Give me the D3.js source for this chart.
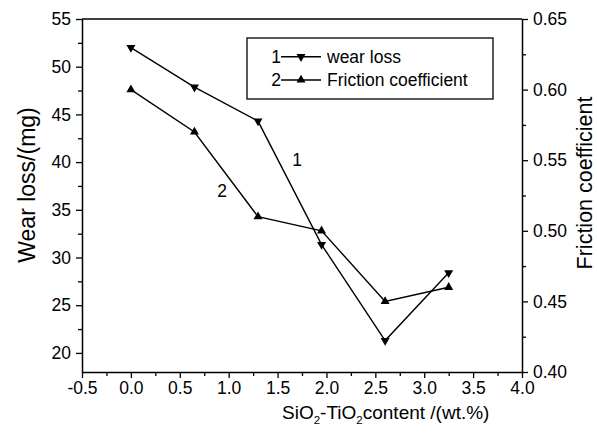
<!DOCTYPE html>
<html>
<head>
<meta charset="utf-8">
<script src="https://cdn.jsdelivr.net/npm/d3@7"></script>
<style>
  html, body { margin: 0; padding: 0; background: #fff; }
  svg { display: block; }
  text { font-family: "Liberation Sans", Arial, sans-serif; fill: #000; }
</style>
</head>
<body>
<svg id="chart" width="597" height="434"></svg>
<script>
// SiO2-TiO2 content (wt.%)
const content = [0, 0.65, 1.3, 1.95, 2.6, 3.25];
// Series 1: wear loss (mg), left axis
const wearLoss = [52.0, 47.85, 44.3, 31.35, 21.3, 28.4];
// Series 2: friction coefficient, right axis
const friction = [0.60, 0.57, 0.51, 0.50, 0.45, 0.46];

const xTicks = [-0.5, 0, 0.5, 1.0, 1.5, 2.0, 2.5, 3.0, 3.5, 4.0];
const yLeftTicks = [20, 25, 30, 35, 40, 45, 50, 55];
const yRightTicks = [0.40, 0.45, 0.50, 0.55, 0.60, 0.65];
const legendLabels = ["wear loss", "Friction coefficient"];

const svg = d3.select("#chart");
const pLeft = 82, pRight = 522, pTop = 19, pBottom = 372;

const x = d3.scaleLinear().domain([-0.5, 4.0]).range([pLeft, pRight]);
const yL = d3.scaleLinear().domain([18, 55]).range([pBottom, pTop]);
const yR = d3.scaleLinear().domain([0.40, 0.65]).range([pBottom, pTop]);

const fs = 17.5;
// plain hyphen for negatives
const fmt1 = d => d3.format(".1f")(d).replace("\u2212", "-");

// minor ticks
const xMinor = d3.range(-0.25, 4.0, 0.5);
const yLMinor = d3.range(22.5, 55, 5);
const yRMinor = d3.range(0.425, 0.65, 0.05);

function styleAxis(g) {
  g.selectAll("path").attr("stroke", "#000").attr("stroke-width", 1.5);
  g.selectAll("line").attr("stroke", "#000").attr("stroke-width", 1.3);
  g.selectAll("text").attr("font-size", fs).attr("font-family", '"Liberation Sans", Arial, sans-serif');
}
function minorStyle(g) {
  g.select("path").remove();
  g.selectAll("line").attr("stroke", "#000").attr("stroke-width", 1.3);
}

// bottom axis
const gx = svg.append("g").attr("transform", `translate(0,${pBottom})`)
  .call(d3.axisBottom(x).tickValues(xTicks).tickSize(6).tickPadding(4)
    .tickFormat(fmt1).tickSizeOuter(0));
styleAxis(gx);
svg.append("g").attr("transform", `translate(0,${pBottom})`)
  .call(d3.axisBottom(x).tickValues(xMinor).tickSize(4).tickFormat("").tickSizeOuter(0))
  .call(minorStyle);

// left axis
const gyl = svg.append("g").attr("transform", `translate(${pLeft},0)`)
  .call(d3.axisLeft(yL).tickValues(yLeftTicks).tickSize(6).tickPadding(5).tickSizeOuter(0));
styleAxis(gyl);
svg.append("g").attr("transform", `translate(${pLeft},0)`)
  .call(d3.axisLeft(yL).tickValues(yLMinor).tickSize(4).tickFormat("").tickSizeOuter(0))
  .call(minorStyle);

// right axis
const gyr = svg.append("g").attr("transform", `translate(${pRight},0)`)
  .call(d3.axisRight(yR).tickValues(yRightTicks).tickSize(6).tickPadding(5)
    .tickFormat(d3.format(".2f")).tickSizeOuter(0));
styleAxis(gyr);
svg.append("g").attr("transform", `translate(${pRight},0)`)
  .call(d3.axisRight(yR).tickValues(yRMinor).tickSize(4).tickFormat("").tickSizeOuter(0))
  .call(minorStyle);

// top frame line
svg.append("line").attr("x1", pLeft).attr("x2", pRight).attr("y1", pTop).attr("y2", pTop)
  .attr("stroke", "#000").attr("stroke-width", 1.5);

// axis titles
svg.append("text")
  .attr("transform", `translate(35,185) rotate(-90)`)
  .attr("text-anchor", "middle").attr("font-size", 23).text("Wear loss/(mg)");

svg.append("text")
  .attr("transform", `translate(592,183) rotate(-90)`)
  .attr("text-anchor", "middle").attr("font-size", 21.5).text("Friction coefficient");

const xt = svg.append("text").attr("x", 282).attr("y", 419).attr("font-size", 19);
xt.append("tspan").text("SiO");
xt.append("tspan").attr("font-size", 11.5).attr("dy", 5).text("2");
xt.append("tspan").attr("dy", -5).text("-TiO");
xt.append("tspan").attr("font-size", 11.5).attr("dy", 5).text("2");
xt.append("tspan").attr("dy", -5).text("content /(wt.%)");

// triangle markers
const triUp = "M0,-5.2L4.5,2.6L-4.5,2.6Z";
const triDown = "M0,5.2L4.5,-2.6L-4.5,-2.6Z";

const lineStyle = sel => sel.attr("fill", "none").attr("stroke", "#000").attr("stroke-width", 1.4);

const wearPts = content.map((c, i) => [x(c), yL(wearLoss[i])]);
const fricPts = content.map((c, i) => [x(c), yR(friction[i])]);

svg.append("path").attr("d", d3.line()(wearPts)).call(lineStyle);
svg.append("path").attr("d", d3.line()(fricPts)).call(lineStyle);

svg.selectAll(".wm").data(wearPts).enter().append("path")
  .attr("transform", d => `translate(${d[0]},${d[1]})`).attr("d", triDown).attr("fill", "#000");
svg.selectAll(".fm").data(fricPts).enter().append("path")
  .attr("transform", d => `translate(${d[0]},${d[1]})`).attr("d", triUp).attr("fill", "#000");

// curve labels
svg.append("text").attr("x", 297).attr("y", 166).attr("text-anchor", "middle").attr("font-size", 17.5).text("1");
svg.append("text").attr("x", 222).attr("y", 197).attr("text-anchor", "middle").attr("font-size", 17.5).text("2");

// legend
const lg = svg.append("g");
lg.append("rect").attr("x", 247).attr("y", 38).attr("width", 246).attr("height", 61)
  .attr("fill", "#fff").attr("stroke", "#000").attr("stroke-width", 1.3);
const rows = [56.7, 80];
const marks = [triDown, triUp];
legendLabels.forEach((lab, i) => {
  const cy = rows[i];
  lg.append("text").attr("x", 276).attr("y", cy + 6).attr("text-anchor", "middle").attr("font-size", 17.5).text(String(i + 1));
  lg.append("line").attr("x1", 281).attr("x2", 321).attr("y1", cy).attr("y2", cy).attr("stroke", "#000").attr("stroke-width", 1.4);
  lg.append("path").attr("transform", `translate(301,${cy})`).attr("d", marks[i]).attr("fill", "#000");
  lg.append("text").attr("x", 327).attr("y", cy + 6).attr("font-size", 17.5).text(lab);
});
</script>
</body>
</html>
